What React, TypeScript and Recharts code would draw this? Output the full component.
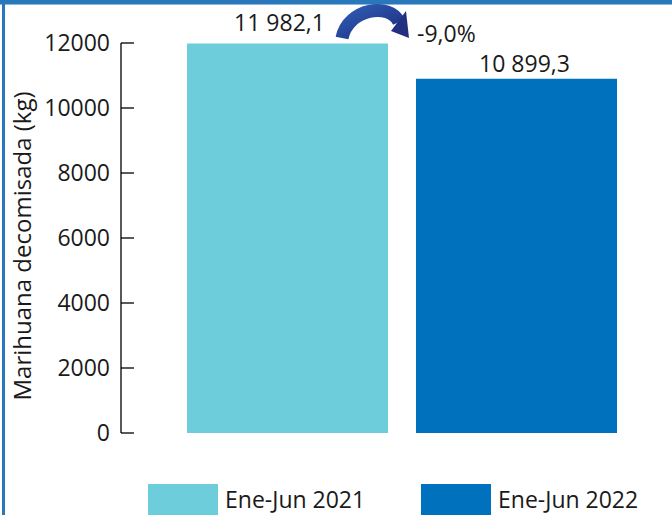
import React from "react";
import { Bar, BarChart, XAxis, YAxis } from "recharts";

const periods = ["Ene-Jun 2021", "Ene-Jun 2022"];
const values = [11982.1, 10899.3];
const yTicks = [0, 2000, 4000, 6000, 8000, 10000, 12000];
const yLabel = "Marihuana decomisada (kg)";

const barColors = ["#6dcddb", "#0071bc"];
const font = "'Open Sans', sans-serif";

const row: Record<string, number | string> = { name: "Ene-Jun" };
periods.forEach((p, i) => {
  row[p] = values[i];
});
const chartData = [row];

const fmt = (v: number) => {
  const [int, dec] = v.toFixed(1).split(".");
  return int.replace(/\B(?=(\d{3})+(?!\d))/g, " ") + "," + dec;
};

const change =
  (((values[1] - values[0]) / values[0]) * 100).toFixed(1).replace(".", ",") +
  "%";

function YTick({ x, y, payload }: any) {
  return (
    <g>
      <text
        x={x}
        y={y}
        dy="0.355em"
        textAnchor="end"
        fontSize={23}
        fill="#1a1a1a"
      >
        {payload.value}
      </text>
      <line x1={x + 11} x2={x + 24} y1={y} y2={y} stroke="#000" strokeWidth={1.3} />
    </g>
  );
}

function FirstLabel(props: any) {
  const { x, y, width, value } = props;
  const r = x + width;
  return (
    <g>
      <defs>
        <linearGradient id="arrowGrad" x1="0" y1="0" x2="1" y2="1">
          <stop offset="0%" stopColor="#2d5cb3" />
          <stop offset="100%" stopColor="#1e2a7c" />
        </linearGradient>
      </defs>
      <text
        x={x + width / 2 - 8}
        y={y - 13}
        textAnchor="middle"
        fontSize={23}
        fill="#1a1a1a"
      >
        {fmt(value)}
      </text>
      <path
        d={`M ${r - 46} ${y - 5.5} C ${r - 40} ${y - 35.5}, ${r + 2} ${y - 41.5}, ${r + 11} ${y - 21.5}`}
        fill="none"
        stroke="url(#arrowGrad)"
        strokeWidth={13}
      />
      <polygon
        points={`${r + 3},${y - 12.5} ${r + 18},${y - 32.5} ${r + 21},${y - 5.5}`}
        fill="#22307f"
      />
    </g>
  );
}

function SecondLabel(props: any) {
  const { x, y, width, value } = props;
  return (
    <g>
      <text
        x={x + width / 2 + 8}
        y={y - 7}
        textAnchor="middle"
        fontSize={23}
        fill="#1a1a1a"
      >
        {fmt(value)}
      </text>
      <text x={x + 1} y={y - 37} fontSize={23} fill="#1a1a1a">
        {change}
      </text>
    </g>
  );
}

function YLabel({ viewBox }: any) {
  const cx = viewBox.x + 31;
  const cy = viewBox.y + viewBox.height / 2 + 8;
  return (
    <text
      x={cx}
      y={cy}
      transform={`rotate(-90 ${cx} ${cy})`}
      textAnchor="middle"
      fontSize={24}
      fill="#1a1a1a"
    >
      {yLabel}
    </text>
  );
}

export default function App() {
  return (
    <div
      style={{
        position: "absolute",
        left: 0,
        top: 0,
        width: 672,
        height: 515,
        overflow: "hidden",
        background: "#fff",
        fontFamily: font,
      }}
    >
      <div
        style={{
          position: "absolute",
          left: 0,
          top: 0,
          width: 672,
          height: 4,
          background: "#2a78bc",
          borderBottom: "1px solid #8ab8de",
        }}
      />
      <div
        style={{
          position: "absolute",
          left: 2,
          top: 0,
          width: 3,
          height: 515,
          background: "#2a78bc",
        }}
      />
      <BarChart
        width={700}
        height={515}
        data={chartData}
        margin={{ top: 43, right: 17, left: 0, bottom: 82 }}
        barGap={28}
        barSize={201}
      >
        <XAxis
          dataKey="name"
          height={0}
          tick={false}
          tickLine={false}
          axisLine={{ stroke: "#444", strokeWidth: 1.3 }}
        />
        <YAxis
          width={121}
          domain={[0, 12000]}
          ticks={yTicks}
          interval={0}
          tickSize={0}
          tickMargin={11}
          tickLine={false}
          axisLine={{ stroke: "#000", strokeWidth: 1.3 }}
          tick={<YTick />}
          label={<YLabel />}
        />
        <Bar
          dataKey={periods[0]}
          fill={barColors[0]}
          isAnimationActive={false}
          label={(p: any) => <FirstLabel {...p} />}
        />
        <Bar
          dataKey={periods[1]}
          fill={barColors[1]}
          isAnimationActive={false}
          label={(p: any) => <SecondLabel {...p} />}
        />
      </BarChart>
      <div
        style={{
          position: "absolute",
          left: 148,
          top: 484,
          display: "flex",
          alignItems: "flex-start",
          fontSize: 23,
          color: "#1a1a1a",
          whiteSpace: "nowrap",
        }}
      >
        {periods.map((p, i) => (
          <div
            key={p}
            style={{ display: "flex", alignItems: "flex-start", width: 273, flex: "none" }}
          >
            <div
              style={{
                width: 70,
                height: 32,
                background: barColors[i],
                marginRight: 7,
                flex: "none",
              }}
            />
            <span style={{ lineHeight: "30px", marginTop: 0 }}>{p}</span>
          </div>
        ))}
      </div>
    </div>
  );
}
